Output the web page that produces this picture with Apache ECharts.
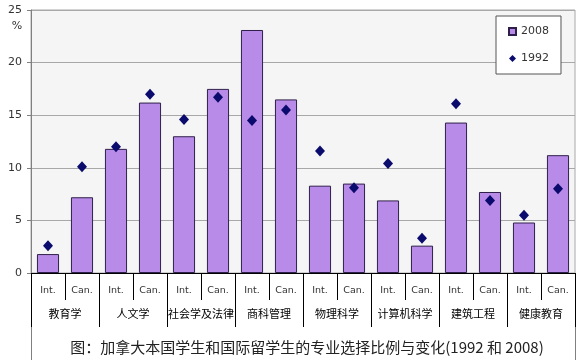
<!DOCTYPE html>
<html><head><meta charset="utf-8">
<script src="https://cdn.jsdelivr.net/npm/echarts@6/dist/echarts.min.js"></script>
<style>html,body{margin:0;padding:0;background:#fff}#c{width:582px;height:360px}</style>
</head><body><div id="c"></div>
<script>
var subCats = ['Int.','Can.','Int.','Can.','Int.','Can.','Int.','Can.','Int.','Can.','Int.','Can.','Int.','Can.','Int.','Can.'];
var groups = ['教育学','人文学','社会学及法律','商科管理','物理科学','计算机科学','建筑工程','健康教育'];
var values2008 = [1.8, 7.2, 11.8, 16.2, 13.0, 17.5, 23.1, 16.5, 8.3, 8.5, 6.9, 2.6, 14.3, 7.7, 4.8, 11.2];
var values1992 = [2.6, 10.1, 12.0, 17.0, 14.6, 16.7, 14.5, 15.5, 11.6, 8.1, 10.4, 3.3, 16.1, 6.9, 5.5, 8.0];
var yTicks = {min: 0, max: 25, interval: 5};

var chart = echarts.init(document.getElementById('c'), null, {renderer: 'canvas'});
chart.setOption({
  animation: false,
  backgroundColor: '#ffffff',
  title: {
    text: '图：加拿大本国学生和国际留学生的专业选择比例与变化(1992 和 2008)',
    left: 302, textAlign: 'center', top: 335,
    textStyle: {fontFamily: 'Noto Sans CJK SC', fontSize: 15, fontWeight: 'normal', color: '#222'}
  },
  legend: {
    orient: 'vertical', left: 496, top: 16,
    backgroundColor: '#ffffff', borderColor: '#555', borderWidth: 1,
    padding: [10, 12, 10, 12], itemGap: 16, itemWidth: 7, itemHeight: 7,
    textStyle: {fontFamily: 'DejaVu Sans', fontSize: 11, color: '#333'},
    data: [{name: '2008', icon: 'rect'}, {name: '1992', icon: 'diamond'}]
  },
  grid: {left: 31, right: 7, top: 10, bottom: 87, show: true, backgroundColor: '#f5f5f5', borderColor: '#a8a8a8', borderWidth: 1},
  xAxis: [{
    type: 'category', data: subCats, position: 'bottom',
    axisLine: {show: true, lineStyle: {color: '#000', width: 1}},
    axisTick: {show: true, interval: 0, length: 27, lineStyle: {color: '#000'}},
    axisLabel: {interval: 0, margin: 13, fontFamily: 'DejaVu Sans', fontSize: 9.5, color: '#333'}
  }, {
    type: 'category', data: groups, position: 'bottom', offset: 27,
    axisLine: {show: false},
    axisTick: {show: true, interval: 0, length: 27, lineStyle: {color: '#000'}},
    axisLabel: {interval: 0, margin: 8, fontFamily: 'Noto Sans CJK SC', fontSize: 11, color: '#000'}
  }],
  yAxis: {
    type: 'value', min: yTicks.min, max: yTicks.max, interval: yTicks.interval,
    name: '%', nameLocation: 'end', nameGap: -22,
    nameTextStyle: {fontFamily: 'DejaVu Sans', fontSize: 11, color: '#333', padding: [0, 28, 0, 0]},
    axisLine: {show: true, lineStyle: {color: '#808080'}},
    axisTick: {show: true, length: 4, lineStyle: {color: '#808080'}},
    axisLabel: {margin: 9, fontFamily: 'DejaVu Sans', fontSize: 11, color: '#333'},
    splitLine: {show: true, lineStyle: {color: '#a8a8a8', width: 1}}
  },
  graphic: [
    {type: 'line', shape: {x1: 31.5, y1: 273, x2: 31.5, y2: 360}, style: {stroke: '#808080', lineWidth: 1}},
    {type: 'line', shape: {x1: 575.5, y1: 273, x2: 575.5, y2: 360}, style: {stroke: '#808080', lineWidth: 1}}
  ],
  series: [{
    name: '2008', type: 'bar', data: values2008, barCategoryGap: '35%',
    itemStyle: {color: '#b98be8', borderColor: '#2e1f4a', borderWidth: 1}
  }, {
    name: '1992', type: 'scatter', data: values1992, symbol: 'diamond', symbolSize: [10, 11],
    itemStyle: {color: '#0b0b6e', opacity: 1}, z: 5
  }]
});
</script></body></html>
